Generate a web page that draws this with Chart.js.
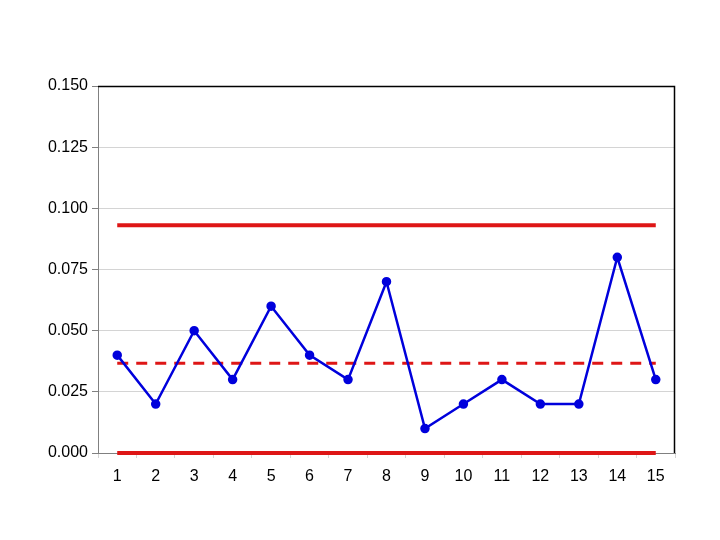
<!DOCTYPE html>
<html>
<head>
<meta charset="utf-8">
<script src="https://cdn.jsdelivr.net/npm/chart.js@4"></script>
<style>
  html, body { margin: 0; padding: 0; background: #fff; }
  #wrap { width: 720px; height: 540px; }
</style>
</head>
<body>
<div id="wrap"><canvas id="chart"></canvas></div>
<script>
/* -------- Data -------- */
const samples = ['1','2','3','4','5','6','7','8','9','10','11','12','13','14','15'];
const proportions = [0.04, 0.02, 0.05, 0.03, 0.06, 0.04, 0.03, 0.07, 0.01, 0.02, 0.03, 0.02, 0.02, 0.08, 0.03];
const ucl = 0.0931;
const centerLine = 0.0367;
const lcl = 0;
const yTicks = [0, 0.025, 0.05, 0.075, 0.1, 0.125, 0.15];

const RED = 'rgb(222, 22, 22)';
const BLUE = 'rgb(0, 0, 220)';

/* -------- Frame plugin: black top/right edges -------- */
const frame = {
    id: 'frame',
    afterDatasetsDraw(chart) {
        const { ctx, chartArea: a } = chart;
        ctx.save();
        ctx.strokeStyle = '#000';
        ctx.lineWidth = 1.5;
        ctx.beginPath();
        ctx.moveTo(a.left, a.top + 0.5);
        ctx.lineTo(a.right - 0.5, a.top + 0.5);
        ctx.lineTo(a.right - 0.5, a.bottom);
        ctx.stroke();
        ctx.restore();
    }
};

const flat = v => samples.map(() => v);

new Chart(document.getElementById('chart'), {
    type: 'line',
    data: {
        labels: samples,
        datasets: [
            {
                label: 'p',
                data: proportions,
                borderColor: BLUE,
                backgroundColor: BLUE,
                borderWidth: 2.5,
                pointRadius: 3.5,
                pointHoverRadius: 3.5,
                tension: 0,
                order: 0
            },
            {
                label: 'UCL',
                data: flat(ucl),
                borderColor: RED,
                borderWidth: 4,
                pointRadius: 0,
                order: 1
            },
            {
                label: 'CL',
                data: flat(centerLine),
                borderColor: RED,
                borderWidth: 3,
                borderDash: [11, 8],
                pointRadius: 0,
                order: 1
            },
            {
                label: 'LCL',
                data: flat(lcl),
                borderColor: RED,
                borderWidth: 4,
                pointRadius: 0,
                clip: false,
                order: 1
            }
        ]
    },
    options: {
        responsive: true,
        maintainAspectRatio: false,
        animation: false,
        layout: { padding: { top: 86, right: 45, left: 0, bottom: 0 } },
        plugins: {
            legend: { display: false },
            tooltip: { enabled: false }
        },
        scales: {
            x: {
                offset: true,
                afterFit: s => { s.height = 87; },
                grid: {
                    offset: true,
                    drawOnChartArea: false,
                    drawTicks: true,
                    tickLength: 5,
                    color: '#d4d4d4'
                },
                border: { color: '#808080', width: 1 },
                ticks: {
                    color: '#000',
                    padding: 9,
                    maxRotation: 0,
                    font: { family: 'Liberation Sans, Arial', size: 16 }
                }
            },
            y: {
                min: 0,
                max: 0.15,
                afterFit: s => { s.width = 98; },
                afterBuildTicks: s => { s.ticks = yTicks.map(v => ({ value: v })); },
                grid: {
                    color: '#d4d4d4',
                    lineWidth: 1,
                    tickLength: 6,
                    tickColor: '#808080'
                },
                border: { color: '#808080', width: 1 },
                ticks: {
                    color: '#000',
                    padding: 4,
                    font: { family: 'Liberation Sans, Arial', size: 16 },
                    callback: v => v.toFixed(3)
                }
            }
        }
    },
    plugins: [frame]
});
</script>
</body>
</html>
